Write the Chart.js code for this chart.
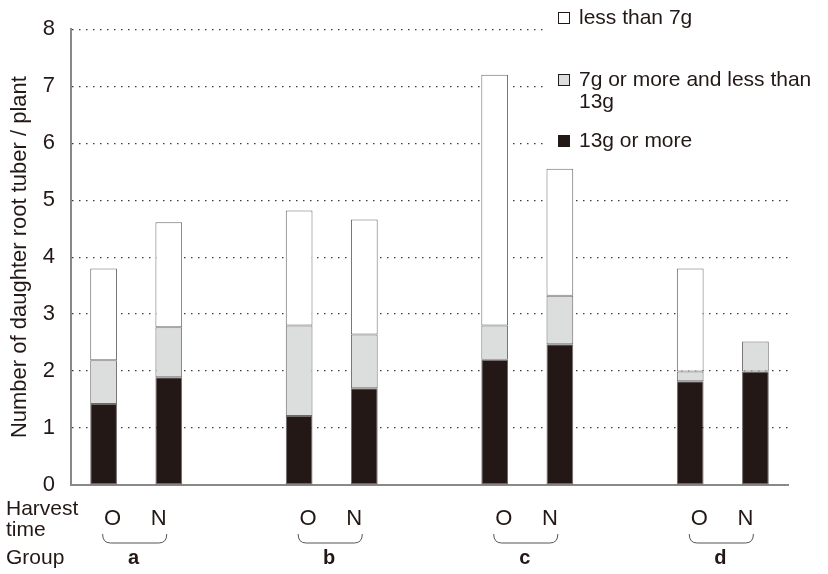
<!DOCTYPE html>
<html>
<head>
<meta charset="utf-8">
<script src="https://cdn.jsdelivr.net/npm/chart.js@4/dist/chart.umd.min.js"></script>
<style>
  html, body { margin: 0; padding: 0; background: #ffffff; }
  #wrap { width: 828px; height: 574px; position: relative; }
</style>
</head>
<body>
<div id="wrap"><canvas id="c" width="828" height="574"></canvas></div>
<script>
// ---- data ----
const groups = ['a', 'b', 'c', 'd'];
const harvestTimes = ['O', 'N'];
// per bar, in order a-O, a-N, b-O, b-N, c-O, c-N, d-O, d-N
const over13g      = [1.42, 1.89, 1.21, 1.70, 2.20, 2.47, 1.82, 1.99];
const from7to13g   = [0.77, 0.88, 1.59, 0.94, 0.60, 0.85, 0.17, 0.53];
const under7g      = [1.61, 1.84, 2.02, 2.02, 4.40, 2.23, 1.81, 0.00];
const seriesNames  = ['13g or more', '7g or more and less than 13g', 'less than 7g'];
const yTicks = [0, 1, 2, 3, 4, 5, 6, 7, 8];
const yTitle = 'Number of daughter root tuber / plant';

// build category slots: two bars per group with an empty slot between groups
const slotLabels = [];
const slotIndex = [];   // maps bar index -> slot
groups.forEach((g, gi) => {
  harvestTimes.forEach(h => { slotIndex.push(slotLabels.length); slotLabels.push(g + '-' + h); });
  if (gi < groups.length - 1) slotLabels.push('');
});
function toSlots(arr) {
  const out = slotLabels.map(() => null);
  arr.forEach((v, i) => { out[slotIndex[i]] = v; });
  return out;
}

const DARK = '#231816';
const GRAY = '#dcdddd';
const FONT = 'Liberation Sans, Arial, Helvetica, sans-serif';

const bottomLabels = {
  id: 'bottomLabels',
  afterDraw(chart) {
    const ctx = chart.ctx;
    const xs = chart.scales.x;
    ctx.save();
    ctx.fillStyle = DARK;
    ctx.textBaseline = 'middle';
    ctx.textAlign = 'left';
    ctx.font = '21px ' + FONT;
    ctx.fillText('Harvest', 6, 509);
    ctx.fillText('time', 6, 530);
    ctx.fillText('Group', 6, 558);
    groups.forEach((g, gi) => {
      const xO = xs.getPixelForValue(slotIndex[gi * 2]);
      const xN = xs.getPixelForValue(slotIndex[gi * 2 + 1]);
      ctx.textAlign = 'center';
      ctx.font = '22px ' + FONT;
      ctx.fillText(harvestTimes[0], xO + 9, 519);
      ctx.fillText(harvestTimes[1], xN - 10, 519);
      // brace
      const x1 = xO - 1, x2 = xN - 2, yT = 534, yB = 543;
      ctx.beginPath();
      ctx.strokeStyle = '#555';
      ctx.lineWidth = 1;
      ctx.moveTo(x1, yT);
      ctx.quadraticCurveTo(x1, yB, x1 + 8, yB);
      ctx.lineTo(x2 - 8, yB);
      ctx.quadraticCurveTo(x2, yB, x2, yT);
      ctx.stroke();
      ctx.font = 'bold 20px ' + FONT;
      ctx.fillText(g, (x1 + x2) / 2 - 1, 558);
    });
    ctx.restore();
  }
};

const legendBox = {
  id: 'legendBox',
  beforeDatasetsDraw(chart) {
    const ctx = chart.ctx;
    ctx.save();
    ctx.fillStyle = '#ffffff';
    ctx.fillRect(547, 0, 281, 158);
    const items = [
      { fill: '#ffffff', lines: [seriesNames[2]], y: 18 },
      { fill: GRAY, lines: ['7g or more and less than', '13g'], y: 80 },
      { fill: DARK, lines: [seriesNames[0]], y: 141 }
    ];
    items.forEach(it => {
      ctx.fillStyle = it.fill;
      ctx.fillRect(558.5, it.y - 5.5, 11, 11);
      ctx.strokeStyle = DARK;
      ctx.lineWidth = 1;
      ctx.strokeRect(558.5, it.y - 5.5, 11, 11);
      ctx.fillStyle = DARK;
      ctx.font = '21px ' + FONT;
      ctx.textAlign = 'left';
      ctx.textBaseline = 'middle';
      it.lines.forEach((t, li) => ctx.fillText(t, 579, it.y + li * 22));
    });
    ctx.restore();
  }
};

new Chart(document.getElementById('c'), {
  type: 'bar',
  data: {
    labels: slotLabels,
    datasets: [
      { label: seriesNames[0], data: toSlots(over13g), backgroundColor: DARK },
      { label: seriesNames[1], data: toSlots(from7to13g), backgroundColor: GRAY },
      { label: seriesNames[2], data: toSlots(under7g), backgroundColor: '#ffffff' }
    ].map(d => Object.assign(d, {
      borderColor: '#6e6a69', borderWidth: 1, borderSkipped: false,
      categoryPercentage: 1.0, barPercentage: 0.41
    }))
  },
  options: {
    responsive: false,
    animation: false,
    events: [],
    layout: { padding: { left: 0, top: 23, right: 40, bottom: 89 } },
    plugins: { legend: { display: false }, tooltip: { enabled: false } },
    scales: {
      x: {
        stacked: true,
        offset: true,
        grid: { display: false, drawTicks: false },
        ticks: { display: false },
        border: { display: true, color: '#8c8888', width: 2 },
        afterFit(s) { s.height = 0; }
      },
      y: {
        stacked: true,
        min: yTicks[0],
        max: yTicks[yTicks.length - 1],
        afterBuildTicks(s) { s.ticks = yTicks.map(v => ({ value: v })); },
        ticks: {
          padding: 16,
          color: DARK,
          font: { family: FONT, size: 22 }
        },
        grid: {
          drawTicks: false,
          color: ctx => ctx.tick && ctx.tick.value === 0 ? 'rgba(0,0,0,0)' : '#3c3c3c',
          lineWidth: 1.2
        },
        border: { display: true, color: '#8c8888', width: 2, dash: [1.5, 5.5] },
        title: {
          display: true,
          text: yTitle,
          color: DARK,
          font: { family: FONT, size: 22 },
          padding: { top: 7, bottom: 0 }
        },
        afterFit(s) { s.width = 71; }
      }
    }
  },
  plugins: [legendBox, bottomLabels]
});
</script>
</body>
</html>
